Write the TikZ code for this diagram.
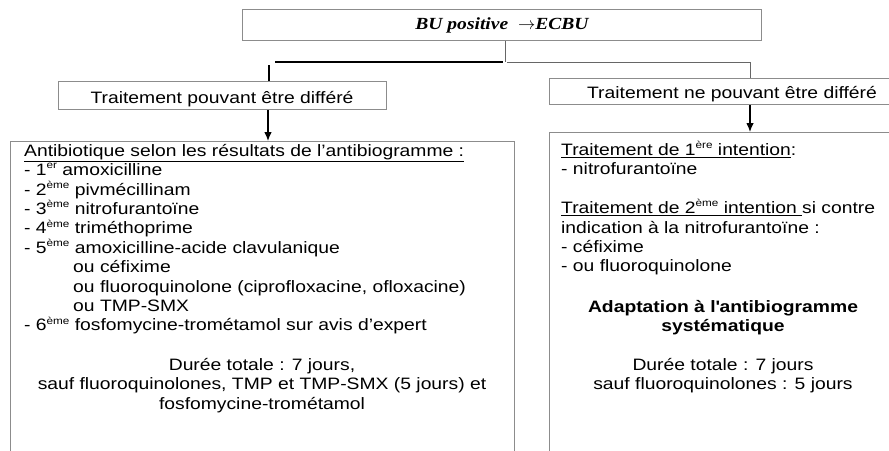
\documentclass[tikz,border=0pt]{standalone}
\usepackage{fontspec}
\setmainfont[FakeStretch=1.17]{Liberation Sans}
\newfontfamily\titlefont[FakeStretch=1.15]{Liberation Serif}
\usetikzlibrary{arrows.meta}

\newcommand\ordsup[1]{\raisebox{0.42em}{\fontsize{10}{10}\selectfont #1}}

\tikzset{
  frame/.style={draw=black!45, line width=1pt, inner sep=0pt, anchor=north west},
  txt/.style={inner sep=0pt, font=\fontsize{16.5}{19.4}\selectfont},
  link/.style={draw=black!60, line width=0.9pt},
  boldlink/.style={draw=black, line width=2.4pt},
  arrowlink/.style={-{Latex[length=9pt,width=7.5pt]}, line width=1.1pt}
}

\begin{document}
\begin{tikzpicture}[x=1pt,y=1pt,yscale=-1]
\useasboundingbox (0,0) rectangle (889,450);
\clip (0,0) rectangle (889,450);

%Shape: Rectangle (title)
\node[frame, minimum width=519pt, minimum height=31pt,
      font=\titlefont\fontsize{17}{20}\selectfont\bfseries\itshape] (bu) at (242,9)
      {BU positive \ $\rightarrow$ECBU};

%Shape: Rectangles (branches)
\node[frame, minimum width=328pt, minimum height=28pt] (defer) at (58,81) {};
\node[frame, minimum width=348pt, minimum height=26pt] (nodefer) at (549,78) {};
\node[frame, minimum width=504pt, minimum height=320pt] (lbox) at (10,141) {};
\node[frame, minimum width=348pt, minimum height=330pt] (rbox) at (549,132) {};

% Text Node (cut at the baseline as in the original)
\begin{scope}
\clip (defer.north west) rectangle ([yshift=5pt]defer.south east);
\node[txt, anchor=base] (defertxt) at (222,103.5) {Traitement pouvant être différé};
\end{scope}
\begin{scope}
\clip (nodefer.north west) rectangle ([yshift=5pt]nodefer.south east);
\node[txt, anchor=base] (nodefertxt) at (732,98.5) {Traitement ne pouvant être différé};
\end{scope}

%Straight Lines
\coordinate (split) at (505,62);
\coordinate (lend) at (275,62);
\coordinate (rend) at (750,62);
\draw[link] (bu.south -| split) -- (split);
\draw[boldlink] (lend) -- ([xshift=-2pt]split);
\draw[boldlink] (269,65) -- (defer.north -| 269,0);
\draw[link] ([xshift=2pt]split) -- (rend) -- (nodefer.north -| rend);
\draw[arrowlink] (defer.south -| 268,0) -- (lbox.north -| 268,0);
\draw[arrowlink] (nodefer.south -| rend) -- (rbox.north -| rend);

% Text Node
\node[txt, anchor=north west, align=left] (llist) at (24,144) {%
\underline{Antibiotique selon les résultats de l’antibiogramme :}\\
- 1\ordsup{er} amoxicilline\\
- 2\ordsup{ème} pivmécillinam\\
- 3\ordsup{ème} nitrofurantoïne\\
- 4\ordsup{ème} triméthoprime\\
- 5\ordsup{ème} amoxicilline-acide clavulanique\\
\hspace*{49pt}ou céfixime\\
\hspace*{49pt}ou fluoroquinolone (ciprofloxacine, ofloxacine)\\
\hspace*{49pt}ou TMP-SMX\\
- 6\ordsup{ème} fosfomycine-trométamol sur avis d’expert};
% Text Node
\node[txt, anchor=north, align=center] (lduree) at (262,358) {%
Durée totale : 7 jours,\\
sauf fluoroquinolones, TMP et TMP-SMX (5 jours) et\\
fosfomycine-trométamol};

% Text Node
\node[txt, anchor=north west, align=left] (rlist) at (561,141) {%
\underline{Traitement de 1\ordsup{ère} intention}:\\
- nitrofurantoïne\\[19.4pt]
\underline{Traitement de 2\ordsup{ème} intention\ }si contre\\
indication à la nitrofurantoïne :\\
- céfixime\\
- ou fluoroquinolone};
% Text Node
\node[txt, anchor=north, align=center, font=\fontsize{16.5}{19.4}\selectfont\bfseries] (adapt) at (723,300) {%
Adaptation à l\textquotesingle antibiogramme\\
systématique};
% Text Node
\node[txt, anchor=north, align=center] (rduree) at (723,358) {%
Durée totale : 7 jours\\
sauf fluoroquinolones : 5 jours};

\end{tikzpicture}
\end{document}
